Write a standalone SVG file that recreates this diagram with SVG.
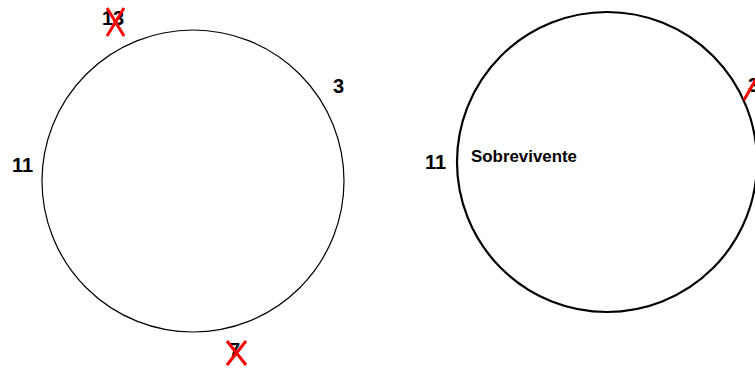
<svg xmlns="http://www.w3.org/2000/svg" width="755" height="370" viewBox="0 0 755 370">
<style>
.c{fill:none;stroke:#000}
.n{font-family:"Liberation Sans",Arial,sans-serif;font-size:20px;font-weight:bold;fill:#000}
.x{stroke:#f00;stroke-width:3;fill:none}
.s{font-family:"Liberation Sans",Arial,sans-serif;font-size:16px;font-weight:bold;fill:#000}
</style>
<rect width="755" height="370" fill="#fff"/>
<g id="left">
<circle class="c" cx="193" cy="181" r="151" stroke-width="1.2"/>
<text class="n" x="102" y="25">13</text>
<path class="x" d="M107 8 L124 36 M124 8 L107 36"/>
<text class="n" x="333" y="93">3</text>
<text class="n" x="12" y="172">11</text>
<text class="n" x="229" y="357">7</text>
<path class="x" d="M227 341 L246 365 M246 341 L227 365"/>
</g>
<g id="right">
<circle class="c" cx="607" cy="162" r="150" stroke-width="2.2"/>
<text class="n" x="425" y="169">11</text>
<text class="s" x="471" y="162" textLength="106" lengthAdjust="spacingAndGlyphs">Sobrevivente</text>
<text class="n" x="748" y="92">3</text>
<path class="x" d="M744 100 L756 79"/>
</g>
</svg>
